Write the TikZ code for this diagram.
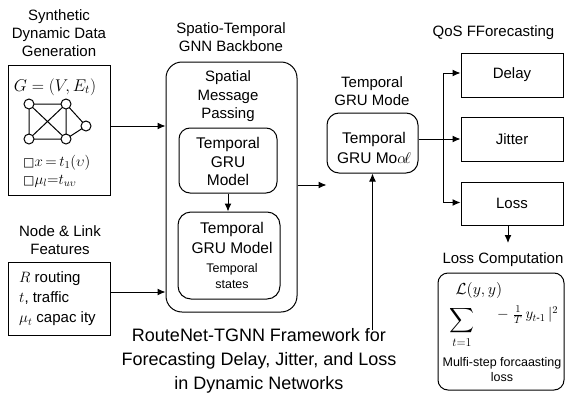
\documentclass[tikz,border=0pt]{standalone}
\usepackage{fix-cm}
\usepackage{amsmath}
\usepackage{fontspec}
\setmainfont{Liberation Sans}
\newfontfamily\dejavu{DejaVu Sans}
\usetikzlibrary{arrows.meta}
\begin{document}
\begin{tikzpicture}[x=1pt,y=-1pt,
  lbl/.style={font=\fontsize{15}{18}\selectfont, align=center, inner sep=0},
  small/.style={font=\fontsize{12.5}{15.5}\selectfont, align=center, inner sep=0},
  sqbox/.style={draw, line width=1pt, inner sep=0},
  rbox/.style={draw, line width=1pt, inner sep=0, rounded corners=11pt},
  arr/.style={-{Latex[length=8pt,width=7pt]}, line width=1pt},
  ln/.style={line width=1pt},
  gnode/.style={circle, draw, line width=1pt, minimum size=10pt, inner sep=0, fill=white}]
\useasboundingbox (0,0) rectangle (566,394);

% ---------- left column ----------
\node[lbl] (gentitle) at (59,33) {Synthetic\\Dynamic Data\\Generation};
\node[sqbox, minimum width=102pt, minimum height=130pt] (gen) at (59,130) {};
\node[inner sep=0, font=\fontsize{17}{20}\selectfont] (geq) at (55,87) {$G=(V,E_t)$};
\coordinate (c1) at (29,104);
\coordinate (c2) at (66,104);
\coordinate (c3) at (86,126);
\coordinate (c4) at (29,139);
\coordinate (c5) at (66,139);
\draw[line width=1pt] (c1) -- (c2) (c1) -- (c4) (c2) -- (c5) (c4) -- (c5)
  (c1) -- (c5) (c2) -- (c4) (c2) -- (c3) (c5) -- (c3);
\node[gnode] (g1) at (c1) {};
\node[gnode] (g2) at (c2) {};
\node[gnode] (g3) at (c3) {};
\node[gnode] (g4) at (c4) {};
\node[gnode] (g5) at (c5) {};
\node[anchor=west, inner sep=0, align=left, font=\fontsize{15}{18}\selectfont] (geqs) at (23,171)
  {{\dejavu\fontsize{12}{12}\selectfont □}$x\,{=}\,t_1(\upsilon)$\\{\dejavu\fontsize{12}{12}\selectfont □}$\mu_l{=}t_{u\upsilon}$};

\node[lbl] (feattitle) at (60,240.5) {Node \& Link\\Features};
\node[sqbox, minimum width=102pt, minimum height=73pt] (feat) at (59,298.5) {};
\node[anchor=west, inner sep=0, align=left, font=\fontsize{15}{20}\selectfont] (feattext) at (19,299)
  {$R$ routing\\$t$, traffic\\$\mu_t$ capac ity};

% ---------- backbone ----------
\node[lbl] (bbtitle) at (231,37.5) {Spatio-Temporal\\GNN Backbone};
\node[rbox, rounded corners=16pt, minimum width=131pt, minimum height=250pt] (bb) at (231.5,187) {};
\node[lbl, font=\fontsize{15}{18.5}\selectfont] (smp) at (228,96.5) {Spatial\\Message\\Passing};
\node[rbox, minimum width=98pt, minimum height=65pt] (in1) at (228,160.5) {};
\node[lbl, font=\fontsize{15.5}{18.5}\selectfont] (in1t) at (228,161.5) {Temporal\\$\mathrm{GRU}$\\Model};
\node[rbox, rounded corners=13pt, minimum width=102pt, minimum height=87pt] (in2) at (229,255.5) {};
\node[lbl, font=\fontsize{15.5}{20}\selectfont] (in2t) at (232,238) {Temporal\\GRU Model};
\node[small] (in2s) at (232,276) {Temporal\\states};
\draw[arr] (in1.south) -- (in1.south |- in2.north);

% ---------- GRU mode ----------
\node[lbl] (gmtitle) at (372,91) {Temporal\\GRU Mode};
\node[rbox, rounded corners=12pt, minimum width=91pt, minimum height=60pt] (gm) at (372.5,143) {};
\node[lbl, font=\fontsize{15.5}{20}\selectfont] (gmt) at (374,148) {Temporal\\GRU Mo$\alpha\!\ell$};
\coordinate (gmin) at (372.5,330);
\draw[arr] (gmin) -- (gm.south);

% ---------- QoS ----------
\node[lbl] (qostitle) at (493.5,33) {QoS FForecasting};
\node[sqbox, minimum width=102pt, minimum height=44pt, font=\fontsize{15}{18}\selectfont] (del) at (512,75) {Delay};
\node[sqbox, minimum width=102pt, minimum height=44pt, font=\fontsize{15}{18}\selectfont] (jit) at (512,139) {Jitter};
\node[sqbox, minimum width=102pt, minimum height=43pt, font=\fontsize{15}{18}\selectfont] (los) at (512,203.5) {Loss};
\coordinate (sp) at (443,139);
\draw[ln] (gm.east |- sp) -- (sp);
\draw[arr] (sp) -- (jit.west);
\draw[arr] (sp) |- ([yshift=2pt]del.west);
\draw[arr] (sp) |- ([yshift=1pt]los.west);

% ---------- loss computation ----------
\node[lbl] (lctitle) at (503,260) {Loss Computation};
\coordinate (lcin) at (508,243);
\draw[arr] (los.south -| lcin) -- (lcin);
\node[rbox, rounded corners=10pt, minimum width=126pt, minimum height=117pt] (lc) at (501,331.5) {};
\node[inner sep=0, font=\fontsize{16}{18}\selectfont] (lcL) at (479,290) {$\mathcal{L}(y,y)$};
\node[inner sep=0, font=\fontsize{18}{20}\selectfont] (lcS) at (462,321) {$\displaystyle\sum$};
\node[inner sep=0, font=\fontsize{12}{14}\selectfont] (lct) at (462,343) {$t{=}1$};
\node[anchor=west, inner sep=0, font=\fontsize{15}{18}\selectfont] (lcR) at (497,315) {$-\;\tfrac{1}{T}\,y_{t\text{-}1}\,|^2$};
\node[small] (lcN) at (502,369.5) {Mulfi-step forcaasting\\loss};

% ---------- caption ----------
\node[lbl, font=\fontsize{18}{24}\selectfont] (cap) at (259,361) {RouteNet-TGNN Framework for\\Forecasting Delay, Jitter, and Loss\\in Dynamic Networks};

% ---------- connectors ----------
\draw[arr] ([yshift=4pt]gen.east) -- ([yshift=4pt]gen.east -| bb.west);
\draw[arr] ([yshift=6.5pt]feat.east) -- ([yshift=6.5pt]feat.east -| bb.west);
\draw[arr] ([yshift=2pt]bb.east) -- ([yshift=2pt]bb.east -| gm.west);
\end{tikzpicture}
\end{document}
